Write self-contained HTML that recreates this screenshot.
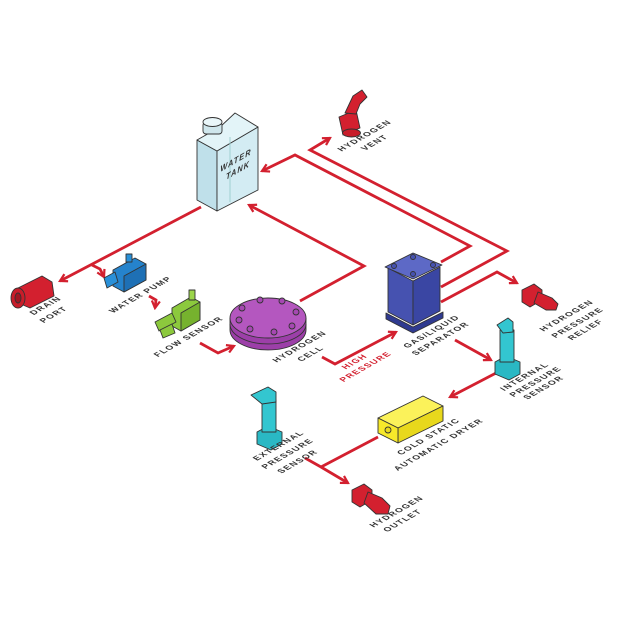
<!DOCTYPE html>
<html><head><meta charset="utf-8"><style>
html,body{margin:0;padding:0;background:#fff;}
svg{display:block;}
.l{fill:none;stroke:#d3202f;stroke-width:2.8;stroke-linejoin:miter;}
.t{font-family:"Liberation Sans",sans-serif;font-weight:bold;font-size:8.5px;fill:#333;letter-spacing:1.2px;text-anchor:middle;}
.r{fill:#d3202f;}
.o{stroke:#333;stroke-width:0.9;stroke-linejoin:round;}
</style></head><body>
<svg width="620" height="620" viewBox="0 0 620 620" xmlns="http://www.w3.org/2000/svg">
<defs>
<marker id="a" viewBox="0 0 10 10" refX="8" refY="5" markerWidth="3.6" markerHeight="3.6" orient="auto" markerUnits="strokeWidth">
<path d="M1,1 L8,5 L1,9" fill="none" stroke="#d3202f" stroke-width="2.2"/>
</marker>
</defs>

<polyline class="l" points="201,207 60,281" marker-end="url(#a)"/>
<polyline class="l" points="92,265 100,269 104,277" marker-end="url(#a)"/>
<polyline class="l" points="149,296 156,300 155,308" marker-end="url(#a)"/>
<polyline class="l" points="200,343 218,353 234,346" marker-end="url(#a)"/>
<polyline class="l" points="300,301 364,266 249,205" marker-end="url(#a)"/>
<polyline class="l" points="441,262 470,246 295,155 262,171" marker-end="url(#a)"/>
<polyline class="l" points="441,287 507,251 310,150 330,138" marker-end="url(#a)"/>
<polyline class="l" points="441,302 497,272 517,283" marker-end="url(#a)"/>
<polyline class="l" points="322,357 335,364 396,332" marker-end="url(#a)"/>
<polyline class="l" points="455,340 491,360" marker-end="url(#a)"/>
<polyline class="l" points="498,372 450,397" marker-end="url(#a)"/>
<polyline class="l" points="378,437 321,467"/>
<polyline class="l" points="305,458 321,467 348,483" marker-end="url(#a)"/>

<g class="o">
<polygon points="197,140 217,151 217,211 197,200" fill="#bfe0ea"/>
<polygon points="217,151 258,127 258,190 217,211" fill="#d3ecf3"/>
<polygon points="197,140 220,127 235,113 258,127 217,151" fill="#e3f4f8"/>
<line x1="230" y1="137" x2="230" y2="202" stroke="#9cc" />
<rect x="203" y="122" width="19" height="12" rx="3" fill="#cfe6ec"/>
<ellipse cx="212.5" cy="122" rx="9.5" ry="4.5" fill="#e9f6f9"/>
</g>
<text class="t" transform="matrix(0.866,-0.5,0,1,236,163)" style="font-style:italic">WATER</text>
<text class="t" transform="matrix(0.866,-0.5,0,1,238,173)" style="font-style:italic">TANK</text>

<g class="o">
<polygon points="339,117 356,110 360,128 343,135" class="r"/>
<polygon points="345,113 353,96 362,90 367,97 360,104 356,114" class="r"/>
<ellipse cx="351.5" cy="133" rx="9" ry="4" fill="#c81d2a"/>
</g>
<text class="t" transform="matrix(0.866,-0.5,0.866,0.5,367,137)">HYDROGEN</text>
<text class="t" transform="matrix(0.866,-0.5,0.866,0.5,377,144)">VENT</text>

<g class="o">
<polygon points="18,288 42,276 52,282 54,296 30,308 16,302" class="r"/>
<ellipse cx="18" cy="298" rx="7" ry="10" fill="#c81d2a"/>
<ellipse cx="18" cy="298" rx="3" ry="5" fill="#a01622"/>
</g>
<text class="t" transform="matrix(0.866,-0.5,0.866,0.5,48,307)">DRAIN</text>
<text class="t" transform="matrix(0.866,-0.5,0.866,0.5,56,316)">PORT</text>

<g class="o">
<polygon points="113,270 135,258 146,264 146,280 124,292 113,286" fill="#2583cc"/>
<polygon points="124,276 146,264 146,280 124,292" fill="#1e70b5"/>
<polygon points="104,278 115,272 118,282 107,288" fill="#2a90d8"/>
<rect x="126" y="254" width="6" height="8" fill="#2a90d8"/>
</g>
<text class="t" transform="matrix(0.866,-0.5,0.866,0.5,143,296)">WATER PUMP</text>

<g class="o">
<polygon points="172,308 191,297 200,302 200,320 181,331 172,326" fill="#8cc93d"/>
<polygon points="181,313 200,302 200,320 181,331" fill="#76b22e"/>
<rect x="189" y="290" width="6" height="10" fill="#9bd54a"/>
<polygon points="155,322 172,313 176,322 159,331" fill="#8cc93d"/>
<polygon points="160,330 172,324 175,333 163,338" fill="#8cc93d"/>
</g>
<text class="t" transform="matrix(0.866,-0.5,0.866,0.5,191,338)">FLOW SENSOR</text>

<g class="o">
<path d="M230,318 L230,330 A38,20 0 0 0 306,330 L306,318" fill="#9c3fa8"/>
<ellipse cx="268" cy="318" rx="38" ry="20" fill="#b457bf"/>
<path d="M230,324 A38,20 0 0 0 306,324" fill="none"/>
<g fill="#a648b2">
<circle cx="242" cy="308" r="3"/><circle cx="260" cy="300" r="3"/><circle cx="282" cy="301" r="3"/>
<circle cx="296" cy="312" r="3"/><circle cx="292" cy="326" r="3"/><circle cx="274" cy="332" r="3"/>
<circle cx="250" cy="329" r="3"/><circle cx="239" cy="320" r="3"/>
</g>
</g>
<text class="t" transform="matrix(0.866,-0.5,0.866,0.5,302,348)">HYDROGEN</text>
<text class="t" transform="matrix(0.866,-0.5,0.866,0.5,313,355)">CELL</text>
<text class="t" style="fill:#d3202f" transform="matrix(0.866,-0.5,0.866,0.5,357,363)">HIGH</text>
<text class="t" style="fill:#d3202f" transform="matrix(0.866,-0.5,0.866,0.5,368,368)">PRESSURE</text>

<g class="o">
<polygon points="386,313 413,327 443,312 443,318 413,333 386,319" fill="#2f3a90"/>
<polygon points="388,268 413,281 413,325 388,312" fill="#4652b0"/>
<polygon points="413,281 440,267 440,311 413,325" fill="#3a46a3"/>
<polygon points="385,267 413,253 442,265 413,279" fill="#5d69c6"/>
<g fill="#4652b0"><circle cx="394" cy="266" r="2.5"/><circle cx="413" cy="257" r="2.5"/><circle cx="433" cy="265" r="2.5"/><circle cx="413" cy="274" r="2.5"/></g>
</g>
<text class="t" transform="matrix(0.866,-0.5,0.866,0.5,434,333)">GAS/LIQUID</text>
<text class="t" transform="matrix(0.866,-0.5,0.866,0.5,443,340)">SEPARATOR</text>

<g class="o">
<polygon points="522,290 534,284 542,290 542,300 530,307 522,302" class="r"/>
<polygon points="538,292 552,298 558,304 556,310 546,310 534,303" class="r"/>
</g>
<text class="t" transform="matrix(0.866,-0.5,0.866,0.5,569,317)">HYDROGEN</text>
<text class="t" transform="matrix(0.866,-0.5,0.866,0.5,580,324)">PRESSURE</text>
<text class="t" transform="matrix(0.866,-0.5,0.866,0.5,588,331)">RELIEF</text>

<g class="o">
<polygon points="495,362 506,356 520,362 520,374 509,380 495,374" fill="#2ab8c4"/>
<rect x="500" y="330" width="14" height="32" fill="#33c6d0"/>
<polygon points="497,325 508,318 513,322 513,332 503,333" fill="#33c6d0"/>
</g>
<text class="t" transform="matrix(0.866,-0.5,0.866,0.5,527,378)">INTERNAL</text>
<text class="t" transform="matrix(0.866,-0.5,0.866,0.5,538,383)">PRESSURE</text>
<text class="t" transform="matrix(0.866,-0.5,0.866,0.5,546,389)">SENSOR</text>

<g class="o">
<polygon points="378,418 423,396 443,406 398,428" fill="#fbf25a"/>
<polygon points="398,428 443,406 443,421 398,443" fill="#e8d81c"/>
<polygon points="378,418 398,428 398,443 378,433" fill="#f6e82a"/>
<circle cx="388" cy="430" r="3" fill="#e8d81c"/>
</g>
<text class="t" transform="matrix(0.866,-0.5,0.866,0.5,431,438)">COLD STATIC</text>
<text class="t" transform="matrix(0.866,-0.5,0.866,0.5,441,446)">AUTOMATIC DRYER</text>

<g class="o">
<polygon points="257,432 268,426 282,432 282,444 271,450 257,444" fill="#2ab8c4"/>
<rect x="262" y="400" width="14" height="32" fill="#33c6d0"/>
<polygon points="251,395 268,387 276,392 276,402 262,404" fill="#33c6d0"/>
</g>
<text class="t" transform="matrix(0.866,-0.5,0.866,0.5,281,447)">EXTERNAL</text>
<text class="t" transform="matrix(0.866,-0.5,0.866,0.5,290,455)">PRESSURE</text>
<text class="t" transform="matrix(0.866,-0.5,0.866,0.5,300,463)">SENSOR</text>

<g class="o">
<polygon points="352,490 364,484 372,490 372,500 360,507 352,502" class="r"/>
<polygon points="368,492 382,498 390,506 388,514 376,514 364,503" class="r"/>
</g>
<text class="t" transform="matrix(0.866,-0.5,0.866,0.5,399,513)">HYDROGEN</text>
<text class="t" transform="matrix(0.866,-0.5,0.866,0.5,405,522)">OUTLET</text>
</svg>
</body></html>
